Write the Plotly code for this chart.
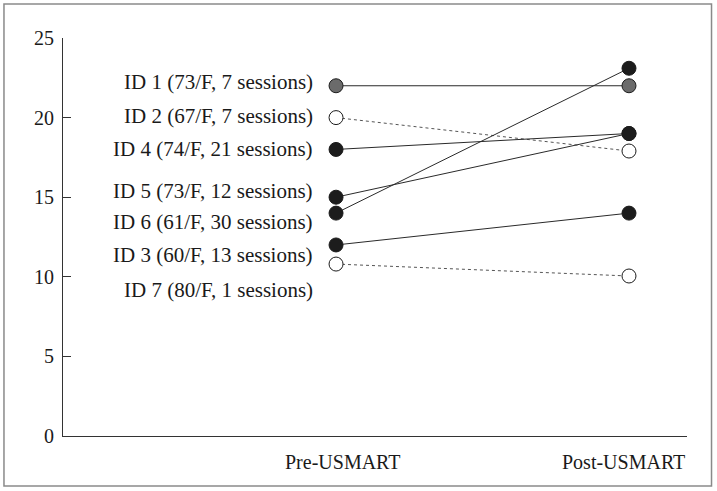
import plotly.graph_objects as go

# ---- data ----
subjects = ["ID 1 (73/F, 7 sessions)", "ID 2 (67/F, 7 sessions)", "ID 4 (74/F, 21 sessions)",
            "ID 5 (73/F, 12 sessions)", "ID 6 (61/F, 30 sessions)", "ID 3 (60/F, 13 sessions)",
            "ID 7 (80/F, 1 sessions)"]
pre_values = [22.0, 20.0, 18.0, 15.0, 14.0, 12.0, 10.8]
post_values = [22.0, 17.9, 19.0, 19.0, 23.1, 14.0, 10.05]
groups = ["gray", "open", "filled", "filled", "filled", "filled", "open"]
phases = ["Pre-USMART", "Post-USMART"]
y_ticks = [0, 5, 10, 15, 20, 25]

# label anchor heights (data units) for the subject labels
label_y = [22.25, 20.1, 18.0, 15.4, 13.45, 11.35, 9.2]

FONT = "Liberation Serif, DejaVu Serif, serif"
FS = 20
fill = {"gray": "#6b6b6b", "open": "#ffffff", "filled": "#1c1c1c"}
dash = {"gray": "solid", "open": "dot", "filled": "solid"}

fig = go.Figure()
for name, a, b, g in zip(subjects, pre_values, post_values, groups):
    fig.add_trace(go.Scatter(
        x=[0, 1], y=[a, b], mode="lines+markers", name=name,
        line=dict(color="#2a2a2a" if g != "open" else "#555555", width=1, dash=dash[g]),
        marker=dict(size=14, color=fill[g], line=dict(color="#1c1c1c", width=1)),
        showlegend=False, hoverinfo="skip",
    ))

annotations = []
for name, ly in zip(subjects, label_y):
    annotations.append(dict(x=0, y=ly, xref="x", yref="y", text=name, showarrow=False,
                            xanchor="right", yanchor="middle", xshift=-21,
                            font=dict(family=FONT, size=21, color="#1a1a1a")))
annotations.append(dict(x=0, y=-0.065, xref="x", yref="paper", text=phases[0], showarrow=False,
                        xanchor="center", yanchor="middle", xshift=6,
                        font=dict(family=FONT, size=FS, color="#1a1a1a")))
annotations.append(dict(x=1.0, y=-0.065, xref="paper", yref="paper", text=phases[1], showarrow=False,
                        xanchor="right", yanchor="middle",
                        font=dict(family=FONT, size=FS, color="#1a1a1a")))

fig.update_layout(
    width=717, height=491,
    margin=dict(l=63, r=30, t=38, b=55),
    paper_bgcolor="white", plot_bgcolor="white",
    annotations=annotations,
    shapes=[dict(type="rect", xref="paper", yref="paper",
                 x0=-0.0946, x1=1.0393, y0=-0.1256, y1=1.0854,
                 line=dict(color="#8a8a8a", width=1.5), fillcolor="rgba(0,0,0,0)", layer="below")],
    xaxis=dict(range=[-0.932, 1.198], showticklabels=False, showgrid=False, zeroline=False,
               showline=True, linecolor="#333333", linewidth=1, ticks=""),
    yaxis=dict(range=[0, 25], tickvals=y_ticks, showgrid=False, zeroline=False,
               showline=True, linecolor="#333333", linewidth=1,
               ticks="inside", ticklen=8, tickcolor="#333333", ticklabelstandoff=4,
               tickfont=dict(family=FONT, size=FS, color="#1a1a1a")),
)

fig.write_html("out.html", config={"displayModeBar": False},
               post_script="document.body.style.margin='0';document.body.style.overflow='hidden';")
